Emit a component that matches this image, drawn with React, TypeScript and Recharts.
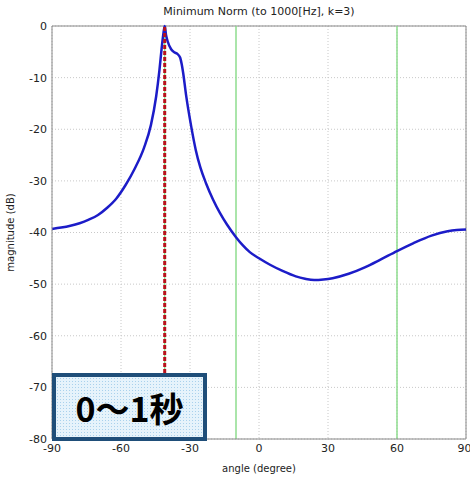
import { CartesianGrid, Line, LineChart, ReferenceLine, XAxis, YAxis } from "recharts";

// angle (degree) vs magnitude (dB)
const angles = [
  -90, -86, -82, -78, -74, -70, -66, -62, -58, -54, -50, -47, -44.7, -43.3, -42.3, -41.6, -41,
  -40.4, -39.7, -38.2, -36.8, -35.5, -34.3, -33.6, -33, -31.7, -29.5, -27.5, -25.5, -23, -20, -17,
  -14, -10, -7, -4, 0, 5, 10, 16, 20, 24, 28, 32, 39, 46, 53, 60, 67, 75, 82, 86, 90,
];
const magnitudes = [
  -39.3, -39.05, -38.7, -38.2, -37.5, -36.6, -35.2, -33.4, -30.8, -27.6, -23.6, -19.2, -13.6, -8.6,
  -4.2, -1.6, 0, -1.8, -3.0, -4.5, -5.1, -5.4, -6.1, -7.4, -9.0, -13.4, -19.4, -24.0, -27.4, -30.5,
  -33.6, -36.2, -38.4, -40.9, -42.5, -43.8, -45.0, -46.3, -47.4, -48.5, -48.95, -49.2, -49.1,
  -48.85, -48.0, -46.75, -45.2, -43.6, -42.1, -40.6, -39.75, -39.5, -39.4,
];
const xTicks = [-90, -60, -30, 0, 30, 60, 90];
const yTicks = [-80, -70, -60, -50, -40, -30, -20, -10, 0];
const sourceAngles = [-41, -10, 60];
const estimateAngle = -41;

const data = angles.map((a, i) => ({ angle: a, mag: magnitudes[i] }));

const tickStyle = { fontSize: 11, fill: "#222", fontFamily: "DejaVu Sans, sans-serif" };

export default function App() {
  return (
    <div style={{ position: "absolute", left: 0, top: 0, width: 470, height: 478, background: "#fff" }}>
      <div
        style={{
          position: "absolute",
          left: 52,
          top: 5,
          width: 414,
          textAlign: "center",
          fontSize: 11,
          fontFamily: "DejaVu Sans, sans-serif",
          color: "#222",
        }}
      >
        Minimum Norm (to 1000[Hz], k=3)
      </div>
      <LineChart width={470} height={478} data={data} margin={{ top: 26, right: 4, left: 0, bottom: 0 }}>
        <CartesianGrid stroke="#c8c8c8" strokeDasharray="1 2" />
        <XAxis
          dataKey="angle"
          type="number"
          domain={[-90, 90]}
          ticks={xTicks}
          height={39}
          tickSize={3}
          tickMargin={2}
          tickLine={false}
          stroke="#888"
          tick={tickStyle}
          label={{ value: "angle (degree)", position: "insideBottom", offset: 6, style: { ...tickStyle, fontSize: 10 } }}
        />
        <YAxis
          type="number"
          domain={[-80, 0]}
          ticks={yTicks}
          width={52}
          tickSize={3}
          tickMargin={2}
          tickLine={false}
          stroke="#888"
          tick={tickStyle}
          label={{
            value: "magnitude (dB)",
            angle: -90,
            position: "insideLeft",
            offset: 10,
            style: { ...tickStyle, fontSize: 10, textAnchor: "middle" },
          }}
        />
        <ReferenceLine y={0} stroke="#888" />
        <ReferenceLine x={90} stroke="#888" />
        {sourceAngles.map((a) => (
          <ReferenceLine key={a} x={a} stroke="#8edc8e" strokeWidth={1.5} />
        ))}
        <Line
          type="monotone"
          dataKey="mag"
          stroke="#1c1cc8"
          strokeWidth={2.5}
          dot={false}
          isAnimationActive={false}
        />
        <ReferenceLine x={estimateAngle} stroke="#b8121b" strokeWidth={3} strokeDasharray="4 2" />
      </LineChart>
      <div
        style={{
          position: "absolute",
          left: 52,
          top: 373,
          width: 155,
          height: 68,
          boxSizing: "border-box",
          border: "4px solid #1f4e79",
          backgroundColor: "#e6f3fb",
          backgroundImage: "radial-gradient(#a9d1ec 0.7px, transparent 0.8px)",
          backgroundSize: "3px 3px",
          display: "flex",
          alignItems: "center",
          justifyContent: "center",
          fontFamily: "'Noto Sans CJK JP', sans-serif",
          fontWeight: 700,
          fontSize: 34,
          color: "#000",
        }}
      >
        0～1秒
      </div>
    </div>
  );
}
